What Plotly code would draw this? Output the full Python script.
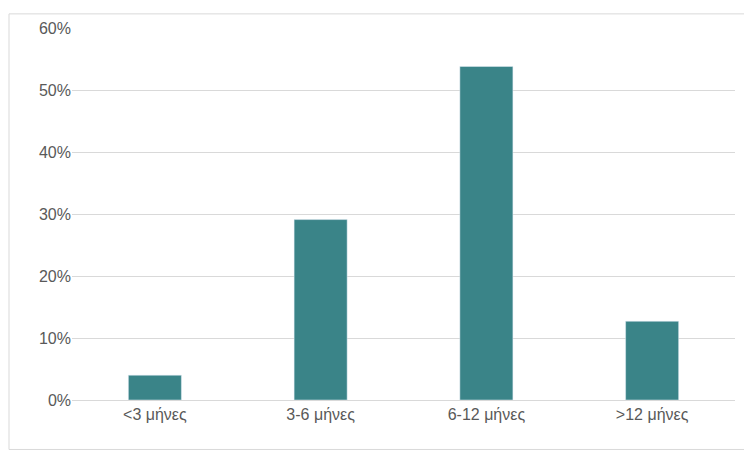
import plotly.graph_objects as go

categories = ["<3 μήνες", "3-6 μήνες", "6-12 μήνες", ">12 μήνες"]
values = [0.04, 0.291, 0.538, 0.127]
tick_vals = [0, 0.1, 0.2, 0.3, 0.4, 0.5, 0.6]

fig = go.Figure(go.Bar(x=categories, y=values, marker_color="#3A8488", width=0.32))
fig.update_layout(
    width=752, height=452,
    margin=dict(l=64, r=25, t=15, b=60),
    plot_bgcolor="white", paper_bgcolor="white",
    font=dict(family="Liberation Sans, Arial", size=16, color="#595959"),
    showlegend=False,
    shapes=[dict(type="rect", xref="paper", yref="paper", x0=-0.095, x1=1.024, y0=-0.133, y1=1.038,
                 line=dict(color="#D9D9D9", width=1))],
)
fig.update_yaxes(range=[0, 0.6], tickvals=tick_vals, tickformat=".0%", gridcolor="#D9D9D9",
                 zeroline=False, showline=False, ticklen=0, ticks="", ticksuffix="  ")
fig.update_xaxes(showline=True, linecolor="#D9D9D9", ticks="", ticklen=0)
fig.write_html("out.html")
